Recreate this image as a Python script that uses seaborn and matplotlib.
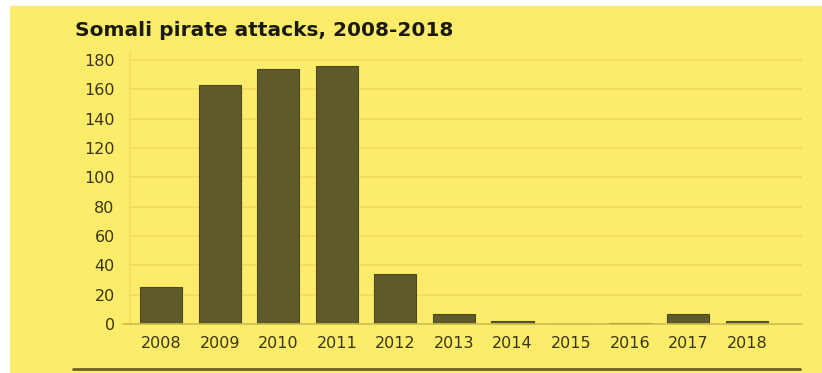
import matplotlib
matplotlib.use("Agg")
import matplotlib.pyplot as plt
import seaborn as sns
import pandas as pd
from matplotlib.patches import Rectangle
from matplotlib.lines import Line2D

years = ["2008", "2009", "2010", "2011", "2012", "2013", "2014", "2015", "2016", "2017", "2018"]
attacks = [25, 163, 174, 176, 34, 7, 2, 0, 1, 7, 2]
yticks = [0, 20, 40, 60, 80, 100, 120, 140, 160, 180]
title = "Somali pirate attacks, 2008-2018"

BG = "#fcec6a"
BAR = "#5f5a2b"
GRID = "#eedb5c"
BASE = "#cdbb4c"
TXT = "#3a3510"

sns.set_theme(style="white")
plt.rcParams["font.family"] = ["DejaVu Sans"]

W, H = 822, 373
fig = plt.figure(figsize=(W / 100, H / 100), dpi=100, facecolor="white")
fig.add_artist(Rectangle((10 / W, 0), 1 - 10 / W, (H - 6) / H, transform=fig.transFigure,
                         facecolor=BG, edgecolor="none", zorder=0))

ax_left, ax_right = 130 / W, 802 / W
ax_bottom = 1 - 324 / H
ax_top = 1 - 52.7 / H
ax = fig.add_axes([ax_left, ax_bottom, ax_right - ax_left, ax_top - ax_bottom])
ax.set_facecolor("none")

df = pd.DataFrame({"year": years, "attacks": attacks})
sns.barplot(data=df, x="year", y="attacks", color=BAR, saturation=1, width=0.72,
            edgecolor="#4c4820", linewidth=0.8, ax=ax, zorder=3)

ax.set_xlim(-0.53, 10.94)
ax.set_ylim(0, 185)
ax.set_yticks(yticks)
ax.set_yticklabels([str(v) for v in yticks])
ax.set_xlabel("")
ax.set_ylabel("")
for y in yticks[1:]:
    ax.axhline(y, color=GRID, lw=1.1, zorder=1)
ax.axhline(0, color=BASE, lw=1.2, zorder=4, xmin=-0.01, clip_on=False)
for s in ["top", "right", "bottom"]:
    ax.spines[s].set_visible(False)
ax.spines["left"].set_color(GRID)
ax.spines["left"].set_linewidth(1.1)
ax.tick_params(axis="both", length=0, labelsize=11.5, labelcolor=TXT)
ax.tick_params(axis="y", pad=11)
ax.tick_params(axis="x", pad=9)

fig.text(75 / W, 1 - 30 / H, title, fontsize=14.5, fontweight="bold", color="#1a1a10",
         ha="left", va="center")

fig.add_artist(Line2D([73 / W, 800 / W], [1 - 369 / H, 1 - 369 / H], transform=fig.transFigure,
                      color="#6b6020", lw=2))

fig.savefig("out.png", dpi=100, facecolor="white")
